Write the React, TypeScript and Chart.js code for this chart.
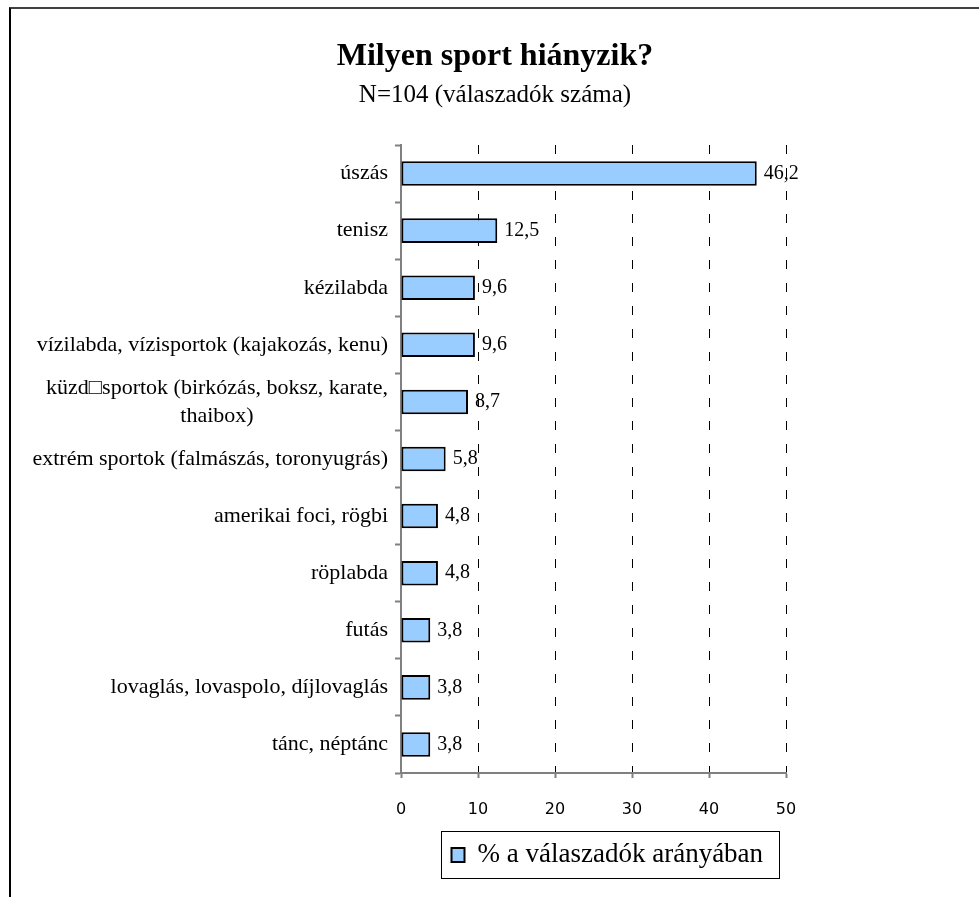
import React, { useEffect, useRef } from 'react';
import { Chart, registerables } from 'chart.js';

Chart.register(...registerables);

const categories: (string | string[])[] = [
  'úszás',
  'tenisz',
  'kézilabda',
  'vízilabda, vízisportok (kajakozás, kenu)',
  ['küzd\u25A1sportok (birkózás, boksz, karate,', 'thaibox)'],
  'extrém sportok (falmászás, toronyugrás)',
  'amerikai foci, rögbi',
  'röplabda',
  'futás',
  'lovaglás, lovaspolo, díjlovaglás',
  'tánc, néptánc',
];
const values = [46.2, 12.5, 9.6, 9.6, 8.7, 5.8, 4.8, 4.8, 3.8, 3.8, 3.8];
const xTicks = [0, 10, 20, 30, 40, 50];
const seriesName = '% a válaszadók arányában';
const titleText = 'Milyen sport hiányzik?';
const subtitleText = 'N=104 (válaszadók száma)';

const SERIF = '"Liberation Serif", "Times New Roman", serif';
const SANS = '"DejaVu Sans", Verdana, sans-serif';
const BAR_FILL = '#99CCFF';
const AXIS_GRAY = '#808080';
const Y_TICK_LEN = 6;
const Y_PAD = 7;

const titlePlugin = {
  id: 'centeredTitles',
  afterDraw(chart: any) {
    const ctx = chart.ctx;
    const cx = chart.width / 2;
    ctx.save();
    ctx.fillStyle = '#000';
    ctx.textAlign = 'center';
    ctx.textBaseline = 'middle';
    ctx.font = `bold 32px ${SERIF}`;
    ctx.fillText(titleText, cx, 48);
    ctx.font = `25px ${SERIF}`;
    ctx.fillText(subtitleText, cx, 86);
    ctx.restore();
  },
};

const yLabelPlugin = {
  id: 'yLabelPlugin',
  afterDraw(chart: any) {
    const ys = chart.scales.y;
    const ctx = chart.ctx;
    ctx.save();
    ctx.font = `22px ${SERIF}`;
    ctx.fillStyle = '#000';
    ctx.textBaseline = 'middle';
    ctx.textAlign = 'center';
    const xr = ys.right - Y_TICK_LEN - Y_PAD;
    const lh = 28;
    categories.forEach((lab, i) => {
      const lines = Array.isArray(lab) ? lab : [lab];
      const y = ys.getPixelForTick(i);
      const w0 = ctx.measureText(lines[0]).width;
      const cx = xr - w0 / 2;
      lines.forEach((ln, j) => {
        const yy = y + (j - (lines.length - 1) / 2) * lh;
        ctx.fillText(ln, cx, yy);
      });
    });
    ctx.restore();
  },
};

const valueLabelPlugin = {
  id: 'valueLabelPlugin',
  afterDatasetsDraw(chart: any) {
    const ctx = chart.ctx;
    const meta = chart.getDatasetMeta(0);
    ctx.save();
    ctx.font = `20px ${SERIF}`;
    ctx.fillStyle = '#000';
    ctx.textBaseline = 'middle';
    ctx.textAlign = 'left';
    meta.data.forEach((el: any, i: number) => {
      const txt = values[i].toFixed(1).replace('.', ',');
      ctx.fillText(txt, el.x + 7, el.y);
    });
    ctx.restore();
  },
};

const legendPlugin = {
  id: 'boxLegendPlugin',
  afterDraw(chart: any) {
    const ctx = chart.ctx;
    const area = chart.chartArea;
    const bx = area.left + 40.5;
    const by = area.bottom + 58.5;
    const bw = 338;
    const bh = 47;
    ctx.save();
    ctx.strokeStyle = '#000';
    ctx.lineWidth = 1;
    ctx.strokeRect(bx, by, bw, bh);
    const cy = by + bh / 2;
    ctx.fillStyle = BAR_FILL;
    ctx.fillRect(bx + 10, cy - 7, 13, 14);
    ctx.lineWidth = 2;
    ctx.strokeRect(bx + 10, cy - 7, 13, 14);
    ctx.fillStyle = '#000';
    ctx.font = `27px ${SERIF}`;
    ctx.textBaseline = 'middle';
    ctx.textAlign = 'left';
    ctx.fillText(seriesName, bx + 36, cy);
    ctx.restore();
  },
};

export default function App() {
  const ref = useRef<HTMLCanvasElement>(null);

  useEffect(() => {
    if (!ref.current) return;
    const chart = new Chart(ref.current, {
      type: 'bar',
      data: {
        labels: categories,
        datasets: [
          {
            label: seriesName,
            data: values,
            backgroundColor: BAR_FILL,
            borderColor: '#000',
            borderWidth: 2,
            borderSkipped: false,
            barPercentage: 0.43,
            categoryPercentage: 1,
          },
        ],
      },
      options: {
        indexAxis: 'y',
        responsive: false,
        animation: false,
        layout: { padding: { left: 0, right: 193, top: 136, bottom: 74 } },
        plugins: {
          legend: { display: false },
          tooltip: { enabled: false },
          title: { display: false },
          subtitle: { display: false },
        },
        scales: {
          x: {
            type: 'linear',
            position: 'bottom',
            min: 0,
            max: 50,
            afterBuildTicks: (s: any) => {
              s.ticks = xTicks.map((v) => ({ value: v }));
            },
            afterFit: (s: any) => {
              s.height = 50;
            },
            grid: {
              display: true,
              drawOnChartArea: true,
              drawTicks: true,
              tickLength: 5,
              color: (c: any) => (c.tick && c.tick.value === 0 ? 'rgba(0,0,0,0)' : '#000'),
              lineWidth: 1,
              tickColor: AXIS_GRAY,
              tickWidth: 2,
            },
            border: { display: true, color: AXIS_GRAY, width: 2, dash: [9, 14] },
            ticks: {
              color: '#000',
              font: { family: SANS, size: 16 },
              padding: 22,
            },
          },
          y: {
            type: 'category',
            offset: true,
            afterFit: (s: any) => {
              s.width = 390;
            },
            grid: {
              display: true,
              offset: true,
              drawOnChartArea: false,
              drawTicks: true,
              tickLength: Y_TICK_LEN,
              tickColor: AXIS_GRAY,
              tickWidth: 2,
            },
            border: { display: true, color: AXIS_GRAY, width: 2 },
            ticks: {
              color: 'rgba(0,0,0,0)',
              font: { family: SERIF, size: 22, lineHeight: 1.27 },
              padding: Y_PAD,
              autoSkip: false,
            },
          },
        },
      },
      plugins: [titlePlugin, yLabelPlugin, valueLabelPlugin, legendPlugin],
    } as any);
    return () => chart.destroy();
  }, []);

  return (
    <div
      style={{
        position: 'absolute',
        left: 9,
        top: 7,
        width: 970,
        height: 890,
        boxSizing: 'border-box',
        borderTop: '2px solid #404040',
        borderLeft: '2px solid #000',
        background: '#fff',
      }}
    >
      <canvas ref={ref} width={968} height={888} style={{ display: 'block' }} />
    </div>
  );
}
